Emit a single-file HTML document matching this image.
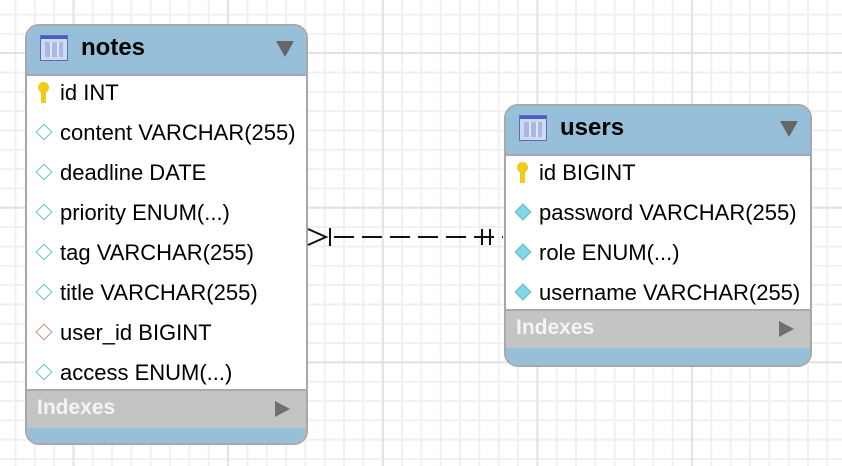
<!DOCTYPE html>
<html><head><meta charset="utf-8"><style>
body{margin:0;width:842px;height:466px;overflow:hidden;position:relative;font-family:"Liberation Sans",Arial,sans-serif;
background-color:#fff;
background-image:
linear-gradient(to right,#e2e2e2 0 2px,transparent 2px),
linear-gradient(to bottom,#e2e2e2 0 2px,transparent 2px),
linear-gradient(to right,#f0f0f0 0 2px,transparent 2px),
linear-gradient(to bottom,#f0f0f0 0 2px,transparent 2px);
background-size:154.67px 154.67px,154.67px 154.67px,19.33px 19.33px,19.33px 19.33px;
background-position:72.5px 0,0 52px,14.5px 0,0 13.5px;}
.t{position:absolute;border:2px solid #a8a8a8;border-radius:14px;overflow:hidden;background:#fff;box-sizing:border-box}
.h{position:absolute;left:0;right:0;top:0;background:#98bfd9;border-bottom:2px solid #a8a8a8}
.h .n{position:absolute;left:54px;top:8px;font-weight:bold;font-size:24px;color:#000}
.ic{position:absolute;left:13px;top:9px;width:28px;height:26px;border:1px solid #5a6fa8;background:linear-gradient(#3e5ed1 0 3px,#cfdaf0 3px);box-sizing:border-box}
.ic:after{content:"";position:absolute;left:4px;right:4px;top:6px;bottom:3px;background:repeating-linear-gradient(to right,#a9b8e6 0 5px,#dfe6f7 5px 7px)}
.tri{position:absolute;right:12px;top:15px;width:0;height:0;border-left:9px solid transparent;border-right:9px solid transparent;border-top:16px solid #666}
.r{position:absolute;left:33px;font-size:22px;color:#000;white-space:nowrap}
.d{position:absolute;left:11px;width:12px;height:12px;border:1.5px solid #5fbcc8;transform:rotate(45deg);background:#fff;box-sizing:border-box}
.d.red{border-color:#d08a80}
.d.f{background:#7fd8e2;border-color:#5fb8c4}
.k{position:absolute;left:11px;width:11px;height:22px}
.k:before{content:"";position:absolute;left:0;top:0;width:11px;height:11px;border-radius:50%;background:#f3c91a}
.k:after{content:"";position:absolute;left:3px;top:8px;width:5px;height:13px;background:#f3c91a}
.ix{position:absolute;left:0;right:0;background:#c4c4c4;border-top:2px solid #aaa;border-bottom:2px solid #aaa;box-sizing:border-box}
.ix span{position:absolute;left:10px;top:5px;color:#f4f4f4;font-weight:bold;font-size:21px}
.ix i{position:absolute;right:16px;top:10px;border-top:8px solid transparent;border-bottom:8px solid transparent;border-left:15px solid #707070}
.ft{position:absolute;left:0;right:0;bottom:0;background:#98bfd9}
</style></head><body>

<div class="t" style="left:25px;top:24px;width:283px;height:421px">
<div class="h" style="height:48px"><div class="ic"></div><div class="n">notes</div><div class="tri"></div></div>
<div class="k" style="top:56px"></div><div class="r" style="top:54px">id INT</div>
<div class="d" style="top:100px"></div><div class="r" style="top:94px">content VARCHAR(255)</div>
<div class="d" style="top:140px"></div><div class="r" style="top:134px">deadline DATE</div>
<div class="d" style="top:180px"></div><div class="r" style="top:174px">priority ENUM(...)</div>
<div class="d" style="top:220px"></div><div class="r" style="top:214px">tag VARCHAR(255)</div>
<div class="d" style="top:260px"></div><div class="r" style="top:254px">title VARCHAR(255)</div>
<div class="d red" style="top:300px"></div><div class="r" style="top:294px">user_id BIGINT</div>
<div class="d" style="top:340px"></div><div class="r" style="top:334px">access ENUM(...)</div>
<div class="ix" style="top:363px;height:41px"><span>Indexes</span><i></i></div>
<div class="ft" style="height:15px"></div>
</div>

<div class="t" style="left:504px;top:104px;width:308px;height:263px">
<div class="h" style="height:48px"><div class="ic"></div><div class="n">users</div><div class="tri"></div></div>
<div class="k" style="top:56px"></div><div class="r" style="top:54px">id BIGINT</div>
<div class="d f" style="top:100px"></div><div class="r" style="top:94px">password VARCHAR(255)</div>
<div class="d f" style="top:140px"></div><div class="r" style="top:134px">role ENUM(...)</div>
<div class="d f" style="top:180px"></div><div class="r" style="top:174px">username VARCHAR(255)</div>
<div class="ix" style="top:203px;height:41px"><span>Indexes</span><i></i></div>
<div class="ft" style="height:17px"></div>
</div>

<svg style="position:absolute;left:0;top:0" width="842" height="466">
<g stroke="#111" stroke-width="2" fill="none">
<polyline points="308,229 326,237 308,245"/>
<line x1="330" y1="228" x2="330" y2="246"/>
<line x1="334" y1="237" x2="503" y2="237" stroke-dasharray="20,8"/>
<line x1="482" y1="229" x2="482" y2="245"/>
<line x1="490" y1="229" x2="490" y2="245"/>
</g>
</svg>
</body></html>
